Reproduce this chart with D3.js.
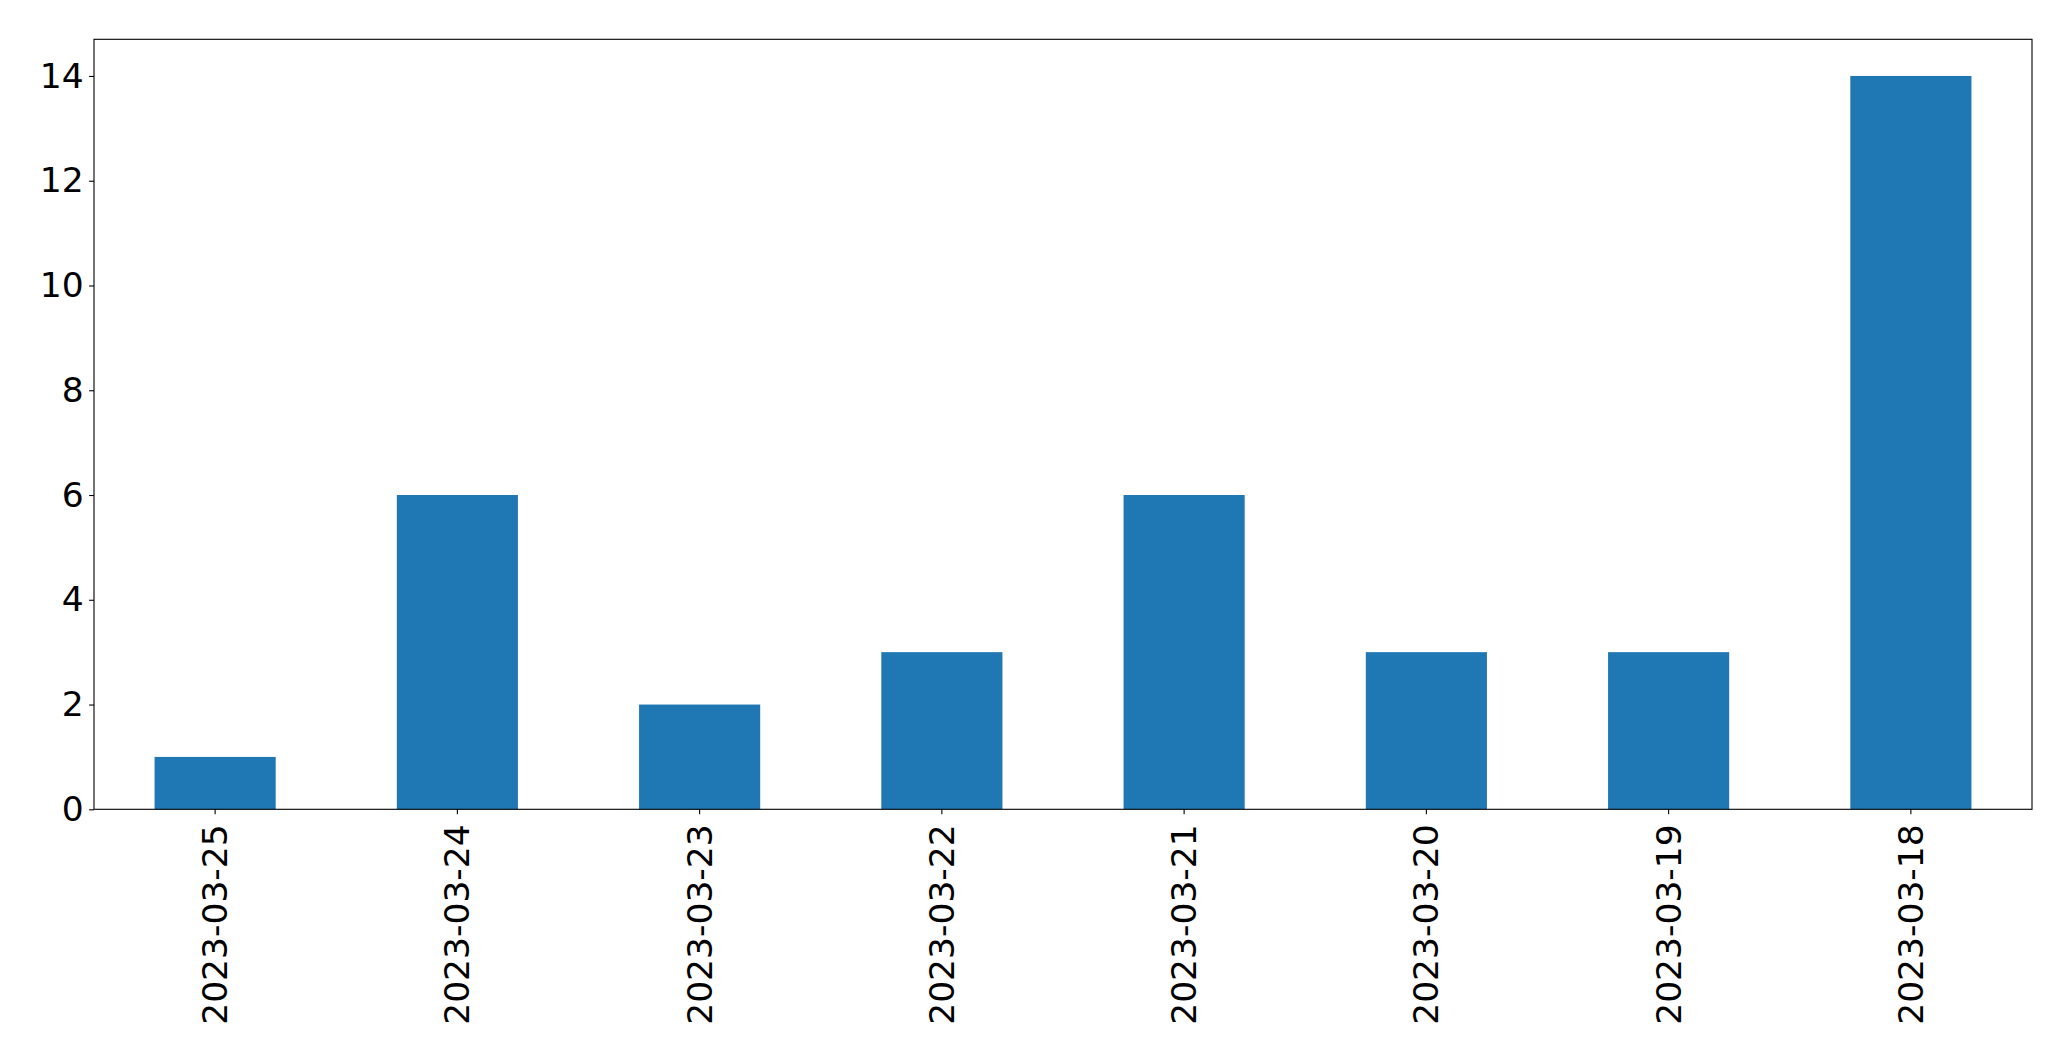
<!DOCTYPE html>
<html><head><meta charset="utf-8">
<script src="https://cdn.jsdelivr.net/npm/d3@7"></script>
<style>html,body{margin:0;padding:0;background:#fff;} svg{display:block;}</style>
</head><body>
<script>
const categories = ["2023-03-25","2023-03-24","2023-03-23","2023-03-22","2023-03-21","2023-03-20","2023-03-19","2023-03-18"];
const values = [1,6,2,3,6,3,3,14];
const yTicks = [0,2,4,6,8,10,12,14];

const W = 2071, H = 1061;
const m = {left:94, right:W-2032, top:39.3, bottom:H-809.3};
const svg = d3.select("body").append("svg").attr("width",W).attr("height",H);
const iw = W-m.left-m.right, ih = H-m.top-m.bottom;
const g = svg.append("g").attr("transform",`translate(${m.left},${m.top})`);

const x = d3.scaleBand().domain(categories).range([0,iw]).paddingInner(0.5).paddingOuter(0.25);
const y = d3.scaleLinear().domain([0, d3.max(values)*1.05]).range([ih,0]);

g.selectAll("rect.bar").data(values).join("rect").attr("class","bar")
  .attr("x",(d,i)=>x(categories[i])).attr("width",x.bandwidth())
  .attr("y",d=>y(d)).attr("height",d=>y(0)-y(d)).attr("fill","#1f77b4");

const font = "'DejaVu Sans', sans-serif";
const fs = 34.5;
const yAxis = g.append("g").call(d3.axisLeft(y).tickValues(yTicks).tickSize(4.9).tickPadding(5.5).tickFormat(d3.format("d")));
yAxis.select(".domain").remove();
yAxis.selectAll("text").attr("font-family",font).attr("font-size",fs).attr("fill","#000");
yAxis.selectAll("line").attr("stroke","#000").attr("stroke-width",1.1);

const xAxis = g.append("g").attr("transform",`translate(0,${ih})`).call(d3.axisBottom(x).tickSize(4.9).tickPadding(4.9));
xAxis.select(".domain").remove();
xAxis.selectAll("line").attr("stroke","#000").attr("stroke-width",1.1);
xAxis.selectAll("text").attr("font-family",font).attr("font-size",fs).attr("fill","#000")
  .attr("transform","rotate(-90)").attr("text-anchor","end").attr("dy","0.35em").attr("x",-15).attr("y",0);

g.append("rect").attr("x",0).attr("y",0).attr("width",iw).attr("height",ih)
  .attr("fill","none").attr("stroke","#000").attr("stroke-width",1.1);
</script>
</body></html>
